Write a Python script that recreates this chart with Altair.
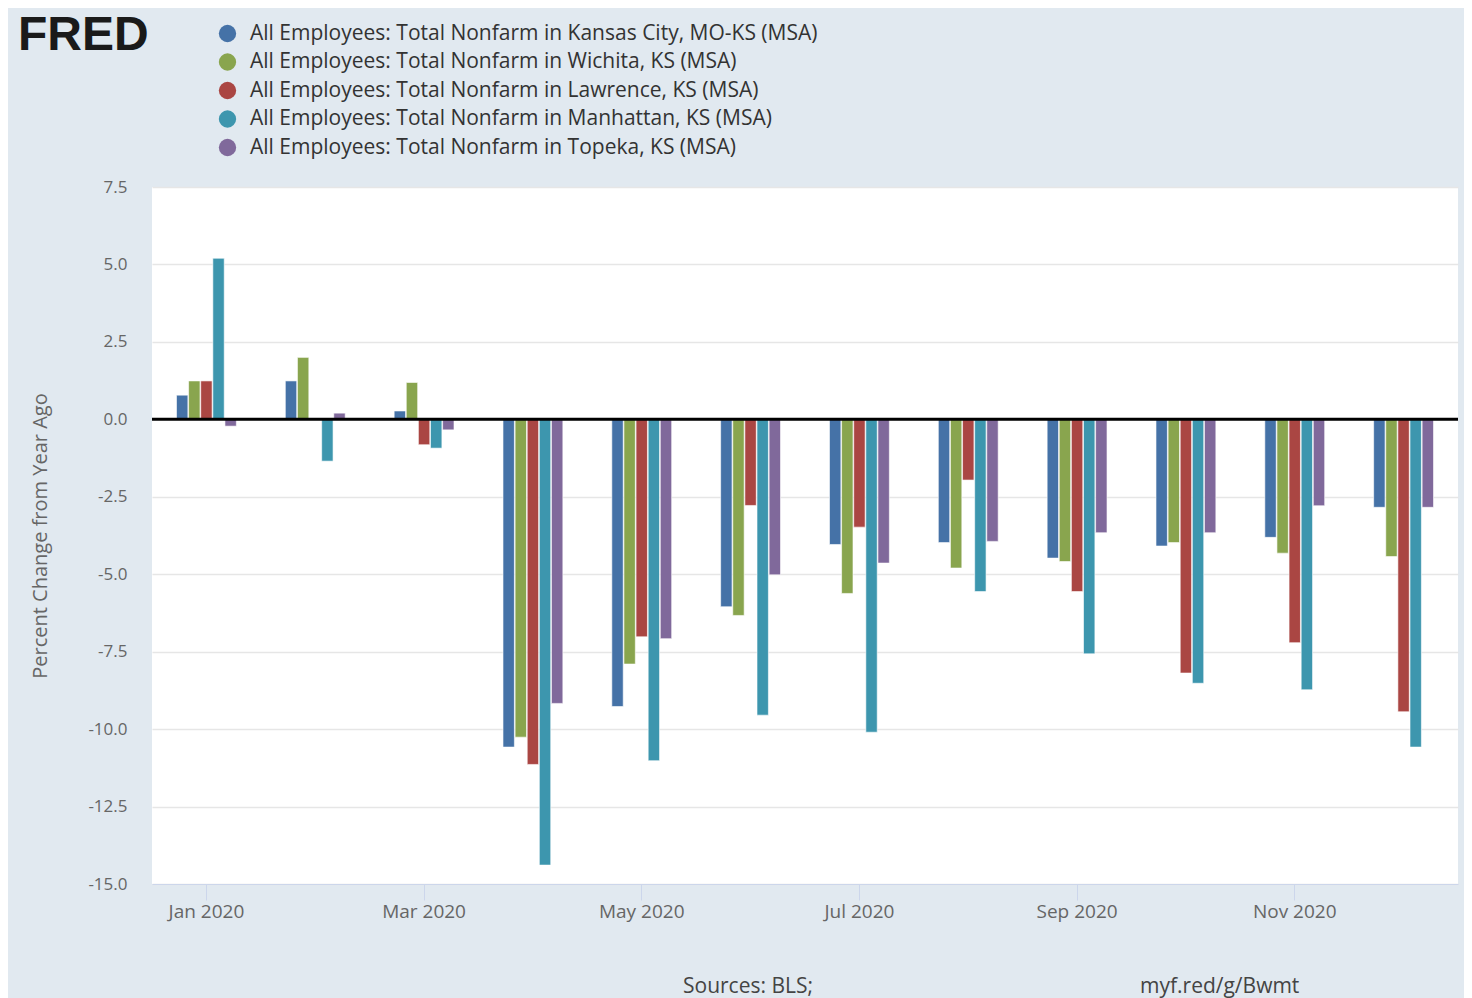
import altair as alt
import pandas as pd

months = ["Jan 2020", "Feb 2020", "Mar 2020", "Apr 2020", "May 2020", "Jun 2020",
          "Jul 2020", "Aug 2020", "Sep 2020", "Oct 2020", "Nov 2020", "Dec 2020"]
tick_months = ["Jan 2020", "Mar 2020", "May 2020", "Jul 2020", "Sep 2020", "Nov 2020"]

series_names = [
    "All Employees: Total Nonfarm in Kansas City, MO-KS (MSA)",
    "All Employees: Total Nonfarm in Wichita, KS (MSA)",
    "All Employees: Total Nonfarm in Lawrence, KS (MSA)",
    "All Employees: Total Nonfarm in Manhattan, KS (MSA)",
    "All Employees: Total Nonfarm in Topeka, KS (MSA)",
]
colors = ["#4572a7", "#89a54e", "#aa4643", "#3d96ae", "#80699b"]

kansas_city = [0.78, 1.24, 0.27, -10.58, -9.27, -6.05, -4.04, -3.98, -4.48, -4.09, -3.81, -2.84]
wichita     = [1.24, 2.00, 1.19, -10.26, -7.90, -6.33, -5.62, -4.80, -4.59, -3.98, -4.32, -4.43]
lawrence    = [1.24, 0.00, -0.82, -11.14, -7.02, -2.78, -3.48, -1.96, -5.56, -8.19, -7.21, -9.44]
manhattan   = [5.20, -1.35, -0.93, -14.39, -11.02, -9.55, -10.10, -5.56, -7.57, -8.52, -8.73, -10.58]
topeka      = [-0.22, 0.20, -0.34, -9.17, -7.08, -5.02, -4.64, -3.94, -3.66, -3.66, -2.79, -2.84]

y_ticks = [-15.0, -12.5, -10.0, -7.5, -5.0, -2.5, 0.0, 2.5, 5.0, 7.5]

rows = []
for name, vals in zip(series_names, [kansas_city, wichita, lawrence, manhattan, topeka]):
    for m, v in zip(months, vals):
        rows.append({"month": m, "series": name, "value": v})
df = pd.DataFrame(rows)

W, H = 1306, 697
FONT = "Open Sans"

bars = alt.Chart(df).mark_bar(stroke="white", strokeWidth=0.6).encode(
    x=alt.X("month:O", sort=months,
            scale=alt.Scale(paddingInner=0.45, paddingOuter=0.225),
            axis=alt.Axis(values=tick_months, title=None, labelAngle=0,
                          labelFontSize=19, labelColor="#666666", labelFont=FONT,
                          tickSize=16, tickColor="#ccd6eb", domainColor="#ccd6eb",
                          labelPadding=2, grid=False)),
    xOffset=alt.XOffset("series:N", sort=series_names,
                        scale=alt.Scale(paddingInner=0.06)),
    y=alt.Y("value:Q",
            scale=alt.Scale(domain=[-15, 7.5], nice=False, zero=False),
            axis=alt.Axis(values=y_ticks,
                          labelExpr="(datum.value < 0 ? '-' : '') + format(abs(datum.value), '.1f')",
                          title="Percent Change from Year Ago",
                          labelFontSize=17, labelColor="#666666", labelFont=FONT,
                          labelPadding=25, ticks=False, domain=False,
                          gridColor="#e6e6e6", gridWidth=1.5,
                          titleFontSize=20, titleColor="#666666", titleFont=FONT,
                          titleFontWeight="normal",
                          titleX=-112, titleY=H / 2, titleAngle=-90,
                          titleAlign="center", titleBaseline="middle")),
    color=alt.Color("series:N", sort=series_names,
                    scale=alt.Scale(domain=series_names, range=colors),
                    legend=alt.Legend(title=None, orient="none", legendX=65, legendY=-164,
                                      symbolType="circle", symbolSize=300,
                                      symbolStrokeWidth=0,
                                      labelFontSize=21, labelFont=FONT, labelColor="#333333",
                                      labelLimit=0, rowPadding=6.5, labelOffset=12)),
)

zero = alt.Chart(pd.DataFrame({"v": [0.0]})).mark_rule(color="black", strokeWidth=3).encode(
    y=alt.Y("v:Q")
)

logo = alt.Chart(pd.DataFrame({"t": ["FRED"]})).mark_text(
    font="Liberation Sans", fontWeight="bold", fontSize=48, color="#1a1a1a",
    align="left", baseline="alphabetic"
).encode(text="t:N", x=alt.value(-134), y=alt.value(-137))

src = alt.Chart(pd.DataFrame({"t": ["Sources: BLS;"]})).mark_text(
    font=FONT, fontSize=21, color="#444444", align="left", baseline="middle"
).encode(text="t:N", x=alt.value(531), y=alt.value(800))

link = alt.Chart(pd.DataFrame({"t": ["myf.red/g/Bwmt"]})).mark_text(
    font=FONT, fontSize=21, color="#444444", align="left", baseline="middle"
).encode(text="t:N", x=alt.value(988), y=alt.value(800))

chart = alt.layer(bars, zero, logo, src, link).properties(
    width=W, height=H,
    background="#e1e9f0",
    padding={"left": 144, "top": 179, "right": 6, "bottom": 114},
    autosize=alt.AutoSizeParams(type="none"),
).configure_view(fill="white", stroke=None)

chart.save("out.html", embed_options={"renderer": "svg", "actions": False})
